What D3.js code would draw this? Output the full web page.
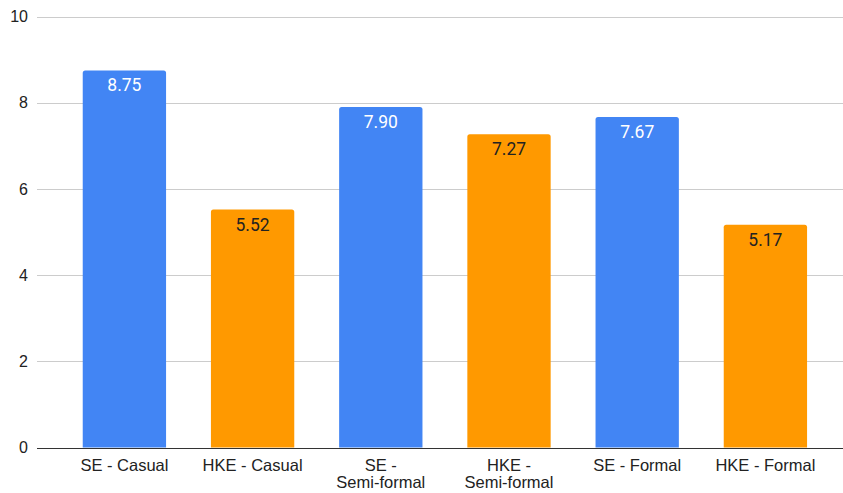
<!DOCTYPE html>
<html>
<head>
<meta charset="utf-8">
<script src="https://cdn.jsdelivr.net/npm/d3@7"></script>
<style>
  html, body { margin: 0; padding: 0; background: #fff; }
  svg { display: block; }
</style>
</head>
<body>
<svg id="chart" width="843" height="493"></svg>
<script>
// Chart data
const categories = ["SE - Casual", "HKE - Casual", "SE - Semi-formal", "HKE - Semi-formal", "SE - Formal", "HKE - Formal"];
const categoryLines = [["SE - Casual"], ["HKE - Casual"], ["SE -", "Semi-formal"], ["HKE -", "Semi-formal"], ["SE - Formal"], ["HKE - Formal"]];
const values = [8.75, 5.52, 7.90, 7.27, 7.67, 5.17];
const groups = ["SE", "HKE", "SE", "HKE", "SE", "HKE"];
const yTicks = [0, 2, 4, 6, 8, 10];

const colors = { SE: "#4285F4", HKE: "#FF9900" };
const labelColors = { SE: "#ffffff", HKE: "#222222" };

const svg = d3.select("#chart");

const x = d3.scaleBand()
  .domain(categories)
  .range([60.3, 829.5])
  .paddingInner(0.35)
  .paddingOuter(0.175);

const y = d3.scaleLinear()
  .domain([0, 10])
  .range([447.5, 16.5]);

const axisFont = "'Liberation Sans', Arial, Helvetica, sans-serif";

// Horizontal gridlines
svg.append("g")
  .selectAll("line")
  .data(yTicks.filter(d => d !== 0))
  .join("line")
  .attr("x1", 37).attr("x2", 843)
  .attr("y1", d => Math.round(y(d)) + 0.5)
  .attr("y2", d => Math.round(y(d)) + 0.5)
  .attr("stroke", "#cccccc")
  .attr("stroke-width", 1);

// Y tick labels
svg.append("g")
  .selectAll("text")
  .data(yTicks)
  .join("text")
  .attr("x", 28)
  .attr("y", d => y(d))
  .attr("dy", "0.36em")
  .attr("text-anchor", "end")
  .attr("font-family", axisFont)
  .attr("font-size", 16)
  .attr("fill", "#222")
  .text(d => d);

// Bars with slightly rounded top corners
const r = 2.5;
svg.append("g")
  .selectAll("path")
  .data(values.map((v, i) => ({ v, c: categories[i], g: groups[i] })))
  .join("path")
  .attr("d", d => {
    const x0 = x(d.c), w = x.bandwidth(), y0 = y(d.v), y1 = y(0);
    return `M${x0},${y1}V${y0 + r}Q${x0},${y0} ${x0 + r},${y0}H${x0 + w - r}Q${x0 + w},${y0} ${x0 + w},${y0 + r}V${y1}Z`;
  })
  .attr("fill", d => colors[d.g]);

// Value labels inside bar tops
svg.append("g")
  .selectAll("text")
  .data(values.map((v, i) => ({ v, c: categories[i], g: groups[i] })))
  .join("text")
  .attr("x", d => x(d.c) + x.bandwidth() / 2)
  .attr("y", d => y(d.v) + 21)
  .attr("text-anchor", "middle")
  .attr("font-family", "Roboto, 'Liberation Sans', Arial, sans-serif")
  .attr("font-size", 17.5)
  .attr("fill", d => labelColors[d.g])
  .text(d => d.v.toFixed(2));

// Baseline
svg.append("line")
  .attr("x1", 37).attr("x2", 843)
  .attr("y1", Math.round(y(0)) + 0.5).attr("y2", Math.round(y(0)) + 0.5)
  .attr("stroke", "#333")
  .attr("stroke-width", 1);

// Category labels (two-line where wrapped)
const cat = svg.append("g")
  .selectAll("text")
  .data(categories)
  .join("text")
  .attr("x", d => x(d) + x.bandwidth() / 2)
  .attr("y", 470.5)
  .attr("text-anchor", "middle")
  .attr("font-family", axisFont)
  .attr("font-size", 16.5)
  .attr("fill", "#222");

cat.each(function(d, i) {
  const t = d3.select(this);
  categoryLines[i].forEach((line, j) => {
    t.append("tspan")
      .attr("x", x(d) + x.bandwidth() / 2)
      .attr("dy", j === 0 ? 0 : 17)
      .text(line);
  });
});
</script>
</body>
</html>
